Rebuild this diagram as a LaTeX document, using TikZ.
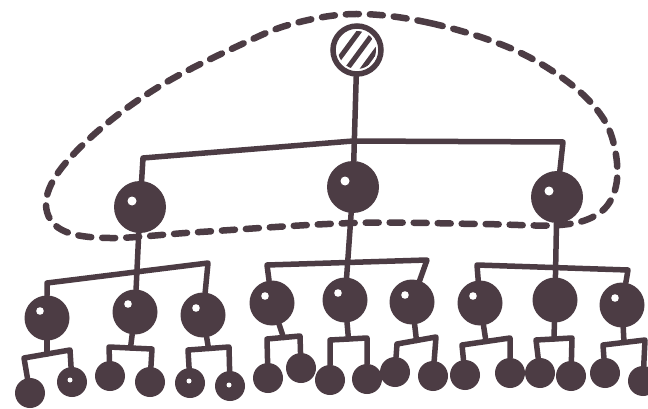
\documentclass[tikz,border=0pt]{standalone}
\usetikzlibrary{calc}
\definecolor{ink}{RGB}{76,60,68}
\tikzset{
  wire/.style={draw=ink, line width=5.5pt, line cap=round, line join=round},
  dashline/.style={draw=ink, line width=6.5pt, line cap=round, dash pattern=on 13pt off 11pt},
  big/.style={circle, fill=ink, minimum size=52pt, inner sep=0pt},
  mid/.style={circle, fill=ink, minimum size=45pt, inner sep=0pt},
  leaf/.style={circle, fill=ink, minimum size=30pt, inner sep=0pt},
  topnode/.style={circle, draw=ink, fill=white, line width=5.5pt, minimum size=48pt, inner sep=0pt},
  hole/.style={fill=white}
}
\begin{document}
\begin{tikzpicture}[x=1pt, y=-1pt]
\clip (0,0) rectangle (648,409);
\fill[white] (0,0) rectangle (648,409);

% dashed outline
\draw[dashline] plot[smooth cycle, tension=0.6] coordinates {(356,14) (430,23) (510,48) (568,82) (603,118) (616,155) (615,190) (598,214) (560,225) (480,224) (353,223) (200,232) (110,238) (62,230) (46,205) (60,170) (105,125) (165,83) (240,45) (292,24)};

% top node
\node[topnode] (T) at (357,50) {};
\begin{scope}
  \clip (357,50) circle (19pt);
  \draw[ink, line width=5pt] (333,67) -- (361,29);
  \draw[ink, line width=5pt] (344,73) -- (372,35);
  \draw[ink, line width=5pt] (356,78) -- (383,41);
\end{scope}

% level 1
\node[big] (A) at (140,207) {};
\node[big] (B) at (353,187) {};
\node[big] (C) at (557,197) {};

% level 2
\node[mid] (L1) at (47,318) {};
\node[mid] (L2) at (135,312) {};
\node[mid] (L3) at (203,315) {};
\node[mid] (M1) at (272,303) {};
\node[mid] (M2) at (345,300) {};
\node[mid] (M3) at (412,302) {};
\node[mid] (R1) at (480,303) {};
\node[mid] (R2) at (555,300) {};
\node[mid] (R3) at (622,305) {};

% leaves
\node[leaf] (l1a) at (30,393) {};
\node[leaf] (l1b) at (72,382) {};
\node[leaf] (l2a) at (110,376) {};
\node[leaf] (l2b) at (150,382) {};
\node[leaf] (l3a) at (190,383) {};
\node[leaf] (l3b) at (230,386) {};
\node[leaf] (m1a) at (268,378) {};
\node[leaf] (m1b) at (301,368) {};
\node[leaf] (m2a) at (330,380) {};
\node[leaf] (m2b) at (367,379) {};
\node[leaf] (m3a) at (395,372) {};
\node[leaf] (m3b) at (433,376) {};
\node[leaf] (r1a) at (465,375) {};
\node[leaf] (r1b) at (510,373) {};
\node[leaf] (r2a) at (540,373) {};
\node[leaf] (r2b) at (571,376) {};
\node[leaf] (r3a) at (605,373) {};
\node[leaf] (r3b) at (643,381) {};

% holes
\foreach \p in {(132,201),(345,181),(549,191)} \fill[hole] \p circle (4.5pt);
\foreach \p in {(40,311),(128,304),(196,308),(265,296),(338,293),(405,295),(473,296),(615,298)} \fill[hole] \p circle (3.8pt);
\foreach \p in {(70,380),(189,381),(229,385)} \fill[hole] \p circle (2.5pt);

% coordinates for bars
\coordinate (a1) at (143,158);
\coordinate (b1) at (353,141);
\coordinate (c1) at (563,142);

\coordinate (gA1) at (47,283);  \coordinate (gA3) at (208,263);
\coordinate (gB1) at (267,265); \coordinate (gB3) at (427,260);
\coordinate (gC1) at (477,265); \coordinate (gC3) at (628,270);

% top connections
\draw[wire] (T) -- (B);
\draw[wire] (A) -- (a1) -- (b1) -- (c1) -- (C);

% level 1 to level 2
\draw[wire] (L1) -- (gA1) -- (gA3) -- (L3);
\draw[wire] (A) -- (L2);
\draw[wire] (M1) -- (gB1) -- (gB3) -- (M3);
\draw[wire] (B) -- (M2);
\draw[wire] (R1) -- (gC1) -- (gC3) -- (R3);
\draw[wire] (C) -- (R2);

% level 2 to leaves
\newcommand{\forkto}[7]{%
  \coordinate (#1x) at (#4,#5);
  \coordinate (#1y) at (#6,#7);
  \draw[wire] (#1) -- ($(#1x)!0.5!(#1y)$);
  \draw[wire] (#2) -- (#1x) -- (#1y) -- (#3);
}
\forkto{L1}{l1a}{l1b}{24}{358}{70}{350}
\forkto{L2}{l2a}{l2b}{109}{347}{152}{349}
\forkto{L3}{l3a}{l3b}{188}{350}{229}{347}
\forkto{M1}{m1a}{m1b}{267}{339}{300}{336}
\forkto{M2}{m2a}{m2b}{330}{340}{367}{338}
\forkto{M3}{m3a}{m3b}{397}{344}{436}{337}
\forkto{R1}{r1a}{r1b}{462}{345}{510}{338}
\forkto{R2}{r2a}{r2b}{536}{340}{572}{338}
\forkto{R3}{r3a}{r3b}{603}{345}{645}{340}
\end{tikzpicture}
\end{document}
